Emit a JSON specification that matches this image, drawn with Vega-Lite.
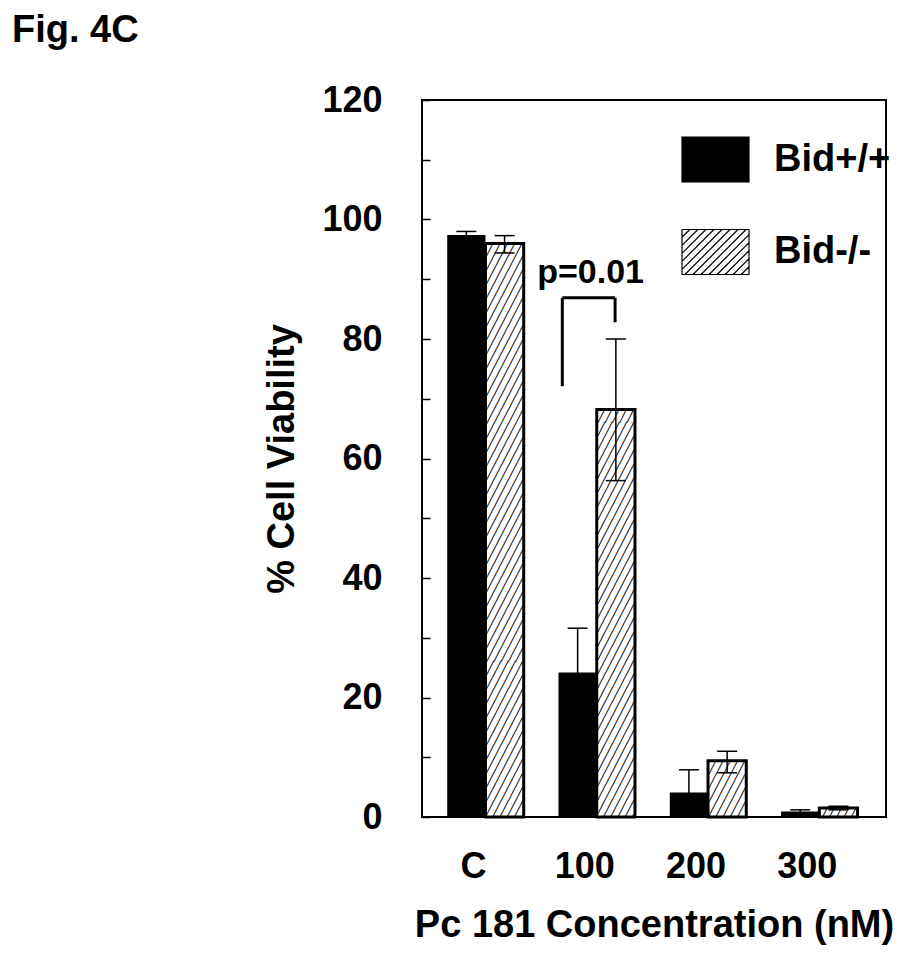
{
  "$schema": "https://vega.github.io/schema/vega-lite/v6.json",
  "width": 464,
  "height": 717,
  "autosize": {"type": "none"},
  "padding": {"left": 422, "top": 100, "right": 14, "bottom": 138},
  "background": "white",
  "config": {
    "font": "Liberation Sans",
    "view": {"stroke": "black", "strokeWidth": 2},
    "axis": {"labelColor": "black", "titleColor": "black", "labelFont": "Liberation Sans", "titleFont": "Liberation Sans", "labelFontWeight": "bold", "titleFontWeight": "bold", "grid": false, "domain": false}
  },
  "title": {"text": "Fig. 4C", "anchor": "start", "frame": "group", "dx": -410, "dy": 38, "offset": 40, "fontSize": 38, "fontWeight": "bold", "font": "Liberation Sans", "color": "black", "baseline": "alphabetic"},
  "data": {
    "values": [
      {"conc": "C", "genotype": "Bid+/+", "v": 97.4, "lo": 96.8, "hi": 98.0},
      {"conc": "C", "genotype": "Bid-/-", "v": 96.0, "lo": 94.4, "hi": 97.3},
      {"conc": "100", "genotype": "Bid+/+", "v": 24.2, "lo": 16.8, "hi": 31.6},
      {"conc": "100", "genotype": "Bid-/-", "v": 68.2, "lo": 56.3, "hi": 80.0},
      {"conc": "200", "genotype": "Bid+/+", "v": 4.1, "lo": 0.4, "hi": 7.9},
      {"conc": "200", "genotype": "Bid-/-", "v": 9.4, "lo": 7.4, "hi": 11.0},
      {"conc": "300", "genotype": "Bid+/+", "v": 0.9, "lo": 0.6, "hi": 1.2},
      {"conc": "300", "genotype": "Bid-/-", "v": 1.5, "lo": 1.2, "hi": 1.8}
    ]
  },
  "layer": [
    {
      "mark": {"type": "bar"},
      "encoding": {
        "x": {"field": "conc", "type": "nominal", "title": "Pc 181 Concentration (nM)",
          "scale": {"domain": ["C", "100", "200", "300"], "paddingInner": 0.3127, "paddingOuter": 0.241, "align": 0.47},
          "axis": {"labelAngle": 0, "ticks": false, "labelPadding": 32, "labelOffset": -12, "labelFontSize": 36, "titleFontSize": 38, "titlePadding": 22}},
        "xOffset": {"field": "genotype", "type": "nominal", "scale": {"domain": ["Bid+/+", "Bid-/-"], "paddingInner": 0, "paddingOuter": 0}},
        "y": {"field": "v", "type": "quantitative", "title": "%  Cell Viability",
          "scale": {"domain": [0, 120], "nice": false},
          "axis": {"values": [0, 10, 20, 30, 40, 50, 60, 70, 80, 90, 100, 110, 120], "labelExpr": "datum.value % 20 === 0 ? datum.label : ''", "tickSize": -8, "tickWidth": 1.5, "tickColor": "black", "labelPadding": 48, "labelFontSize": 36, "titleFontSize": 38, "titlePadding": 20}},
        "fill": {"field": "genotype", "type": "nominal",
          "scale": {"domain": ["Bid+/+", "Bid-/-"], "range": ["black", "white"]},
          "legend": {"title": null, "orient": "none", "legendX": 259, "legendY": 25, "padding": 0, "rowPadding": 32.5,
            "symbolType": "M-1,-0.672L1,-0.672L1,0.672L-1,0.672Z M-1,-0.44L-0.768,-0.672 M-1,-0.2L-0.528,-0.672 M-1,0.04L-0.288,-0.672 M-1,0.28L-0.048,-0.672 M-1,0.52L0.192,-0.672 M-0.912,0.672L0.432,-0.672 M-0.672,0.672L0.672,-0.672 M-0.432,0.672L0.912,-0.672 M-0.192,0.672L1,-0.52 M0.048,0.672L1,-0.28 M0.288,0.672L1,-0.04 M0.528,0.672L1,0.2 M0.768,0.672L1,0.44",
            "symbolSize": 4489, "labelOffset": 24, "labelFontSize": 38, "labelFontWeight": "bold", "labelFont": "Liberation Sans", "labelColor": "black", "labelLimit": 300,
            "encode": {"symbols": {"update": {
              "stroke": {"value": "black"},
              "strokeWidth": {"value": 1.2},
              "fill": [{"test": "datum.value === 'Bid-/-'", "value": "white"}, {"value": "black"}]
            }}}}}
      }
    },
    {
      "transform": [{"filter": "datum.genotype === 'Bid-/-'"}],
      "mark": {"type": "text", "clip": true, "font": "DejaVu Sans Mono", "fontWeight": "bold", "fontSize": 12, "lineHeight": 13.97, "align": "center", "baseline": "top", "dy": 1, "color": "black"},
      "encoding": {
        "x": {"field": "conc", "type": "nominal", "title": "Pc 181 Concentration (nM)"},
        "xOffset": {"field": "genotype", "type": "nominal"},
        "y": {"field": "v", "type": "quantitative", "title": "%  Cell Viability"},
        "text": {"condition": [
          {"test": "datum.conc === 'C'", "value": ["╱╱╱╱╱","╱╱╱╱╱","╱╱╱╱╱","╱╱╱╱╱","╱╱╱╱╱","╱╱╱╱╱","╱╱╱╱╱","╱╱╱╱╱","╱╱╱╱╱","╱╱╱╱╱",
                 "╱╱╱╱╱","╱╱╱╱╱","╱╱╱╱╱","╱╱╱╱╱","╱╱╱╱╱","╱╱╱╱╱","╱╱╱╱╱","╱╱╱╱╱","╱╱╱╱╱","╱╱╱╱╱",
                 "╱╱╱╱╱","╱╱╱╱╱","╱╱╱╱╱","╱╱╱╱╱","╱╱╱╱╱","╱╱╱╱╱","╱╱╱╱╱","╱╱╱╱╱","╱╱╱╱╱","╱╱╱╱╱",
                 "╱╱╱╱╱","╱╱╱╱╱","╱╱╱╱╱","╱╱╱╱╱","╱╱╱╱╱","╱╱╱╱╱","╱╱╱╱╱","╱╱╱╱╱","╱╱╱╱╱","╱╱╱╱╱",
                 "╱╱╱╱╱","╱╱╱╱╱"]},
          {"test": "datum.conc === '100'", "value": ["╱╱╱╱╱","╱╱╱╱╱","╱╱╱╱╱","╱╱╱╱╱","╱╱╱╱╱","╱╱╱╱╱","╱╱╱╱╱","╱╱╱╱╱","╱╱╱╱╱","╱╱╱╱╱",
                 "╱╱╱╱╱","╱╱╱╱╱","╱╱╱╱╱","╱╱╱╱╱","╱╱╱╱╱","╱╱╱╱╱","╱╱╱╱╱","╱╱╱╱╱","╱╱╱╱╱","╱╱╱╱╱",
                 "╱╱╱╱╱","╱╱╱╱╱","╱╱╱╱╱","╱╱╱╱╱","╱╱╱╱╱","╱╱╱╱╱","╱╱╱╱╱","╱╱╱╱╱","╱╱╱╱╱","╱╱╱╱╱"]},
          {"test": "datum.conc === '200'", "value": ["╱╱╱╱╱","╱╱╱╱╱","╱╱╱╱╱","╱╱╱╱╱","╱╱╱╱╱"]}
        ], "value": ["╱╱╱╱╱"]}
      }
    },
    {
      "transform": [{"filter": "datum.genotype === 'Bid-/-'"}],
      "mark": {"type": "bar", "fill": "transparent", "stroke": "black", "strokeWidth": 3},
      "encoding": {
        "x": {"field": "conc", "type": "nominal", "title": "Pc 181 Concentration (nM)"},
        "xOffset": {"field": "genotype", "type": "nominal"},
        "y": {"field": "v", "type": "quantitative", "title": "%  Cell Viability"}
      }
    },
    {
      "mark": {"type": "rule", "color": "black", "strokeWidth": 1.5},
      "encoding": {
        "x": {"field": "conc", "type": "nominal", "title": "Pc 181 Concentration (nM)"},
        "xOffset": {"field": "genotype", "type": "nominal"},
        "y": {"field": "lo", "type": "quantitative", "title": "%  Cell Viability"},
        "y2": {"field": "hi"}
      }
    },
    {
      "mark": {"type": "tick", "color": "black", "thickness": 1.5, "size": 20, "opacity": 1},
      "encoding": {
        "x": {"field": "conc", "type": "nominal", "title": "Pc 181 Concentration (nM)"},
        "xOffset": {"field": "genotype", "type": "nominal"},
        "y": {"field": "hi", "type": "quantitative", "title": "%  Cell Viability"}
      }
    },
    {
      "mark": {"type": "tick", "color": "black", "thickness": 1.5, "size": 20, "opacity": 1},
      "encoding": {
        "x": {"field": "conc", "type": "nominal", "title": "Pc 181 Concentration (nM)"},
        "xOffset": {"field": "genotype", "type": "nominal"},
        "y": {"field": "lo", "type": "quantitative", "title": "%  Cell Viability"}
      }
    },
    {
      "data": {"values": [{"conc": "100"}]},
      "mark": {"type": "rule", "color": "black", "strokeWidth": 3},
      "encoding": {
        "x": {"field": "conc", "type": "nominal", "bandPosition": 0.05, "title": "Pc 181 Concentration (nM)"},
        "y": {"datum": 72.1, "type": "quantitative"},
        "y2": {"datum": 86.9}
      }
    },
    {
      "data": {"values": [{"conc": "100"}]},
      "mark": {"type": "rule", "color": "black", "strokeWidth": 3},
      "encoding": {
        "x": {"field": "conc", "type": "nominal", "bandPosition": 0.74, "title": "Pc 181 Concentration (nM)"},
        "y": {"datum": 82.8, "type": "quantitative"},
        "y2": {"datum": 86.9}
      }
    },
    {
      "data": {"values": [{"conc": "100"}]},
      "mark": {"type": "rule", "color": "black", "strokeWidth": 3},
      "encoding": {
        "x": {"field": "conc", "type": "nominal", "bandPosition": 0.05, "title": "Pc 181 Concentration (nM)"},
        "x2": {"field": "conc", "bandPosition": 0.74},
        "y": {"datum": 86.9, "type": "quantitative"}
      }
    },
    {
      "data": {"values": [{"conc": "100", "label": "p=0.01"}]},
      "mark": {"type": "text", "font": "Liberation Sans", "fontWeight": "bold", "fontSize": 34, "align": "center", "baseline": "alphabetic", "color": "black"},
      "encoding": {
        "x": {"field": "conc", "type": "nominal", "bandPosition": 0.42, "title": "Pc 181 Concentration (nM)"},
        "y": {"datum": 89.4, "type": "quantitative"},
        "text": {"field": "label"}
      }
    }
  ]
}
